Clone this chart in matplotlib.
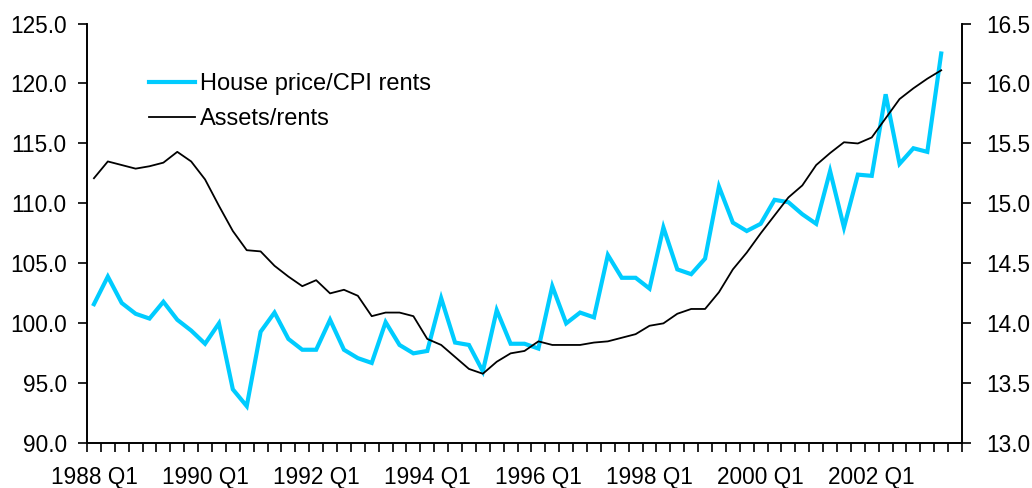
import matplotlib
matplotlib.use("Agg")
import matplotlib.pyplot as plt
from matplotlib.ticker import FixedLocator, FuncFormatter, MultipleLocator
from matplotlib.lines import Line2D

plt.rcParams['font.family'] = ['Liberation Sans', 'DejaVu Sans']

# Quarterly data 1988 Q1 .. 2003 Q2
start_year = 1988
n_quarters = 62

house_price_cpi_rents = [
    101.6, 103.9, 101.7, 100.8, 100.4, 101.8, 100.3, 99.4,
    98.3, 100.0, 94.5, 93.1, 99.3, 100.9, 98.7, 97.8,
    97.8, 100.3, 97.8, 97.1, 96.7, 100.1, 98.2, 97.5,
    97.7, 102.1, 98.4, 98.2, 96.0, 101.1, 98.3, 98.3,
    97.9, 103.1, 100.0, 100.9, 100.5, 105.7, 103.8, 103.8,
    102.9, 108.0, 104.5, 104.1, 105.4, 111.4, 108.4, 107.7,
    108.3, 110.3, 110.1, 109.1, 108.3, 112.7, 108.0, 112.4,
    112.3, 119.1, 113.3, 114.6, 114.3, 122.5,
]

assets_rents = [
    15.21, 15.35, 15.32, 15.29, 15.31, 15.34, 15.43, 15.35,
    15.20, 14.98, 14.77, 14.61, 14.60, 14.48, 14.39, 14.31,
    14.36, 14.25, 14.28, 14.23, 14.06, 14.09, 14.09, 14.06,
    13.87, 13.82, 13.72, 13.62, 13.58, 13.68, 13.75, 13.77,
    13.85, 13.82, 13.82, 13.82, 13.84, 13.85, 13.88, 13.91,
    13.98, 14.00, 14.08, 14.12, 14.12, 14.26, 14.45, 14.59,
    14.75, 14.90, 15.05, 15.15, 15.32, 15.42, 15.51, 15.50,
    15.55, 15.71, 15.87, 15.96, 16.04, 16.11,
]

tick_labels = ["1988 Q1", "1990 Q1", "1992 Q1", "1994 Q1",
               "1996 Q1", "1998 Q1", "2000 Q1", "2002 Q1"]

series_names = ["House price/CPI rents", "Assets/rents"]
cyan = "#00CCFF"

fig = plt.figure(figsize=(10.32, 4.88), dpi=100)
ax = fig.add_axes([0.0843, 0.0916, 0.8479, 0.8602])
ax2 = ax.twinx()

x = list(range(len(house_price_cpi_rents)))
ax.plot(x, house_price_cpi_rents, color=cyan, lw=3.0, solid_joinstyle='miter', zorder=3)
ax2.plot(x, assets_rents, color='black', lw=1.3, zorder=3)

n_cats = 63
ax.set_xlim(-0.5, n_cats - 0.5)
ax.set_ylim(90, 125)
ax2.set_ylim(13.0, 16.5)

ax.yaxis.set_major_locator(MultipleLocator(5))
ax.yaxis.set_major_formatter(FuncFormatter(lambda v, p: f"{v:.1f}"))
ax2.yaxis.set_major_locator(MultipleLocator(0.5))
ax2.yaxis.set_major_formatter(FuncFormatter(lambda v, p: f"{v:.1f}"))

major_pos = [8 * i for i in range(len(tick_labels))]
ax.xaxis.set_major_locator(FixedLocator(major_pos))
ax.set_xticklabels(tick_labels)
ax.xaxis.set_minor_locator(FixedLocator([k - 0.5 for k in range(n_cats + 1)]))
ax.tick_params(axis='x', which='major', length=0, pad=16, labelsize=16.3)
ax.tick_params(axis='x', which='minor', length=6.5, width=1.2, direction='out')
ax.tick_params(axis='y', length=6.5, width=1.2, pad=8, labelsize=16.3)
ax2.tick_params(axis='y', length=6.5, width=1.2, pad=11, labelsize=16.3)

for a in (ax, ax2):
    a.spines['top'].set_visible(False)
    for s in ('left', 'right', 'bottom'):
        a.spines[s].set_linewidth(1.2)

handles = [Line2D([], [], color=cyan, lw=3.0), Line2D([], [], color='black', lw=1.3)]
leg = ax.legend(handles, series_names, loc='upper left', bbox_to_anchor=(0.0596, 0.904),
                frameon=False, fontsize=17, handlelength=1.95, handletextpad=0.22,
                labelspacing=0.55, borderaxespad=0)

fig.savefig("out.png", dpi=100)
